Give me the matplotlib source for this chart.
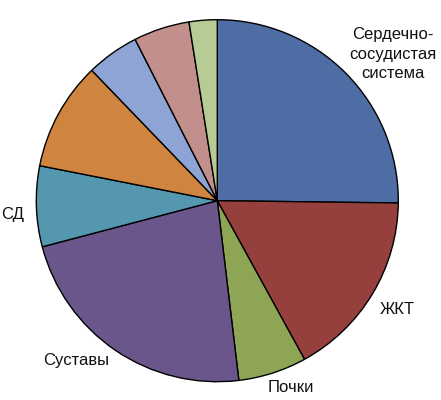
import matplotlib
matplotlib.use("Agg")
import matplotlib.pyplot as plt

# shares (%), clockwise from 12 o'clock
shares = [25.2, 16.8, 6.1, 22.8, 7.2, 9.7, 4.7, 5.0, 2.5]
colors = ["#4F6DA5", "#96403E", "#8EA555", "#6B568B", "#5597AE",
          "#CF853F", "#8EA4D4", "#C38F8D", "#B7CC94"]
labels = ["Сердечно-\nсосудистая\nсистема", "ЖКТ", "Почки", "Суставы", "СД"]
label_xy = [(393, 54), (397, 310), (291, 388), (76, 360), (13, 215)]

plt.rcParams["font.family"] = ["Liberation Sans", "DejaVu Sans"]

fig = plt.figure(figsize=(4.41, 4.0), dpi=100)
ax = fig.add_axes([0, 0, 1, 1])

ax.pie(shares, colors=colors, startangle=90, counterclock=False,
       center=(217.3, 400 - 200.7), radius=181, frame=True,
       wedgeprops=dict(edgecolor="black", linewidth=1.0))
ax.set_xlim(0, 441)
ax.set_ylim(0, 400)
ax.axis("off")

for txt, (x, y) in zip(labels, label_xy):
    ax.text(x, 400 - y, txt, ha="center", va="center", fontsize=12,
            color="#111111", linespacing=1.4)

fig.savefig("out.png", dpi=100)
